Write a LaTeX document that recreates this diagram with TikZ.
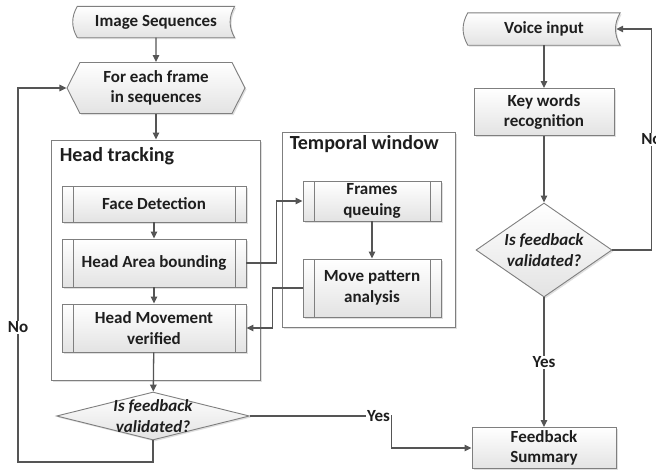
\documentclass[tikz,border=0pt]{standalone}
\usepackage{fontspec}
\setmainfont{Carlito}
\usepackage{tikz}
\usetikzlibrary{arrows.meta,shapes.geometric,shapes.symbols,shadows,backgrounds,positioning}

\definecolor{edge}{HTML}{7F7F7F}
\definecolor{wire}{HTML}{555555}
\definecolor{ink}{HTML}{1E1E1E}

\newcommand{\boxfont}{\fontsize{17}{20.5}\selectfont\bfseries}
\newcommand{\titlefont}{\fontsize{20}{24}\selectfont\bfseries}

\tikzset{
	shade/.style={drop shadow={opacity=0.25,shadow xshift=1.5pt,shadow yshift=-1.5pt}},
	box/.style={draw=edge, line width=0.9pt, top color=white, bottom color=black!11, text=ink, font=\boxfont, align=center, inner sep=2pt, shade},
	proc/.style={box, path picture={% inner bars of a process box
		\draw[edge, line width=0.9pt] ([xshift=11pt]path picture bounding box.north west) -- ([xshift=11pt]path picture bounding box.south west)
			([xshift=-11pt]path picture bounding box.north east) -- ([xshift=-11pt]path picture bounding box.south east);}},
	tapetext/.style={text=ink, font=\boxfont, align=center, inner sep=2pt},
	tapeline/.style={draw=edge, line width=0.9pt, top color=white, bottom color=black!11, shade},
	loopbox/.style={box, signal, signal to=west and east, signal pointer angle=126},
	check/.style={box, diamond, inner sep=0pt},
	asks/.style={text=ink, font=\boxfont\itshape, align=center},
	group/.style={draw=edge, line width=0.9pt, fill=white, shade},
	title/.style={text=ink, font=\titlefont, inner sep=0pt},
	line/.style={draw=wire, line width=1.3pt, -{Triangle[length=7pt,width=6.5pt]}},
	tag/.style={fill=white, text=ink, font=\boxfont, inner sep=1pt}
}

\begin{document}
\begin{tikzpicture}[x=1pt,y=-1pt]
\useasboundingbox (0,0) rectangle (656,472);

% frame loop, left column
\node[tapetext, minimum width=157pt, minimum height=31pt] (img) at (156,22) {Image Sequences};
\node[loopbox, minimum width=178pt, minimum height=51pt] (frame) at (156,88) {For each frame\\in sequences};

% the two groups
\node[group, minimum width=209pt, minimum height=240pt] (track) at (155.5,260) {};
\node[title, anchor=north west] (tracklbl) at ([xshift=9pt,yshift=-8pt]track.north west) {Head tracking};
\node[group, minimum width=173pt, minimum height=195pt] (window) at (368.5,229.5) {};
\node[title, anchor=north west] (windowlbl) at ([xshift=8pt,yshift=-4pt]window.north west) {Temporal window};

\node[proc, minimum width=184pt, minimum height=36pt] (face) at (154,204) {Face Detection};
\node[proc, minimum width=184pt, minimum height=48pt] (area) at (154,263) {Head Area bounding};
\node[proc, minimum width=184pt, minimum height=48pt] (verify) at (154,328) {Head Movement\\verified};
\node[check, minimum width=193pt, minimum height=48pt, label={[asks]center:{Is feedback\\validated?}}] (check1) at (153,416) {};

\node[proc, minimum width=138pt, minimum height=40pt] (queue) at (372,201) {Frames\\queuing};
\node[proc, minimum width=138pt, minimum height=58pt] (pattern) at (372,288) {Move pattern\\analysis};

% voice loop, right column
\node[tapetext, minimum width=152pt, minimum height=32pt] (voice) at (544,29) {Voice input};
\node[box, minimum width=140pt, minimum height=47pt] (keys) at (544,112) {Key words\\recognition};
\node[check, minimum width=136pt, minimum height=94pt, label={[asks]center:{Is feedback\\validated?}}] (check2) at (544,250) {};
\node[box, minimum width=144pt, minimum height=41pt] (summary) at (544,448) {Feedback\\Summary};

% stored data outlines
\begin{scope}[on background layer]
\foreach \n in {img,voice}
	\draw[tapeline] (\n.north west) -- (\n.north east) to[bend right=30] (\n.south east) -- (\n.south west) to[bend left=30] (\n.north west) -- cycle;
\end{scope}

\coordinate (back) at (18,462);

\draw[line] (img) -- (frame);
\draw[line] (frame.south) -- (frame.south |- track.north);
\draw[line] (face) -- (area);
\draw[line] (area) -- (verify);
\draw[line] (verify) -- (check1);
\draw[line] (area.east) -- ++(30,0) |- (queue.west);
\draw[line] (queue) -- (pattern);
\draw[line] (pattern.west) -- ++(-30,0) |- (verify.east);
\draw[line] (check1.south) |- (back) |- node[tag, pos=0.18] {No} (frame.west);
\draw[line] (check1.east) -| node[tag, pos=0.5, anchor=east] {Yes} ([xshift=-80pt]summary.west) -- (summary.west);

\draw[line] (voice) -- (keys);
\draw[line] (keys) -- (check2);
\draw[line] (check2) -- node[tag] {Yes} (summary);
\draw[line] (check2.east) -- ++(39,0) |- node[tag, pos=0.25] {No} ([xshift=-4pt]voice.east);
\end{tikzpicture}
\end{document}
